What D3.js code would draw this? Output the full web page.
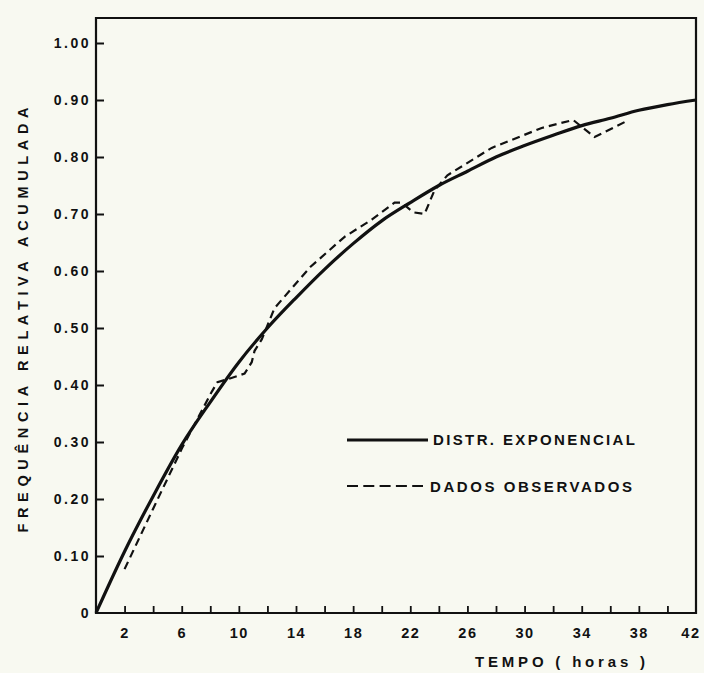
<html>
<head>
<script src="https://d3js.org/d3.v7.min.js"></script>
<style>
  body { margin: 0; background: #f8f9f1; }
  text { font-family: "Liberation Sans", Arial, sans-serif; font-weight: bold; fill: #111; }
</style>
</head>
<body>
<svg id="chart" width="704" height="673"></svg>
<script>
// curva teorica (a cada 2 horas)
const hours = [0, 2, 4, 6, 8, 10, 12, 14, 16, 18, 20, 22, 24, 26, 28, 30, 32, 34, 36, 38, 40, 42];
const expFreq = [0, 0.108, 0.205, 0.295, 0.37, 0.44, 0.50, 0.553, 0.603, 0.648, 0.688, 0.72, 0.75, 0.775, 0.80, 0.82, 0.838, 0.855, 0.868, 0.882, 0.892, 0.90];
// dados observados
const obsHours = [2, 4, 6, 8.1, 8.5, 9.2, 10.4, 10.9, 11.1, 11.6, 12.5, 15, 17.4, 19.3, 20.9, 21.4, 22.2, 23.0, 23.7, 24.6, 27.7, 31.2, 33.4, 34.9, 37.3];
const obsFreq = [0.077, 0.183, 0.288, 0.388, 0.405, 0.41, 0.42, 0.44, 0.46, 0.48, 0.535, 0.607, 0.66, 0.69, 0.72, 0.72, 0.703, 0.70, 0.742, 0.768, 0.816, 0.851, 0.865, 0.835, 0.865];
// eixos
const xTicks = [2, 4, 6, 8, 10, 12, 14, 16, 18, 20, 22, 24, 26, 28, 30, 32, 34, 36, 38, 40, 42];
const xLabels = [2, 6, 10, 14, 18, 22, 26, 30, 34, 38, 42];
const yTicks = [0, 0.1, 0.2, 0.3, 0.4, 0.5, 0.6, 0.7, 0.8, 0.9, 1.0];
const yLabels = ['0', '0.10', '0.20', '0.30', '0.40', '0.50', '0.60', '0.70', '0.80', '0.90', '1.00'];

const svg = d3.select('#chart');
const x = d3.scaleLinear().domain([0, 42]).range([96, 696]);
const y = d3.scaleLinear().domain([0, 1]).range([613, 43]);

// moldura
svg.append('path')
  .attr('d', 'M' + x(0) + ',' + y(0) + 'V18H' + x(42) + 'V' + y(0) + 'Z')
  .attr('fill', 'none').attr('stroke', '#111').attr('stroke-width', 2.2);

// eixo y
const yAxis = svg.append('g')
  .attr('transform', 'translate(' + x(0) + ',0)')
  .call(d3.axisLeft(y).tickValues(yTicks).tickSizeInner(-8).tickSizeOuter(0).tickPadding(5)
    .tickFormat((d, i) => yLabels[i]));
yAxis.select('.domain').remove();
yAxis.selectAll('.tick line').attr('stroke', '#111').attr('stroke-width', 2).filter(d => d === 0).remove();
yAxis.selectAll('.tick text').style('font-size', '14px').style('letter-spacing', '2.5px').attr('fill', '#111');

// eixo x
const xAxis = svg.append('g')
  .attr('transform', 'translate(0,' + y(0) + ')')
  .call(d3.axisBottom(x).tickValues(xTicks).tickSizeInner(-7).tickSizeOuter(0).tickPadding(15)
    .tickFormat(d => xLabels.includes(d) ? d : ''));
xAxis.select('.domain').remove();
xAxis.selectAll('.tick line').attr('stroke', '#111').attr('stroke-width', 1.8).filter(d => d === 42).remove();
xAxis.selectAll('.tick text').style('font-size', '14.5px').style('letter-spacing', '1.5px').attr('fill', '#111');
// o ultimo rotulo fica encostado na borda direita
xAxis.selectAll('.tick text').filter(d => d === 42).attr('text-anchor', 'end').attr('x', 4);

// curva exponencial
svg.append('path')
  .datum(hours.map((h, i) => [h, expFreq[i]]))
  .attr('d', d3.line().x(d => x(d[0])).y(d => y(d[1])).curve(d3.curveMonotoneX))
  .attr('fill', 'none').attr('stroke', '#111').attr('stroke-width', 3.2);

// dados observados
svg.append('path')
  .datum(obsHours.map((h, i) => [h, obsFreq[i]]))
  .attr('d', d3.line().x(d => x(d[0])).y(d => y(d[1])))
  .attr('fill', 'none').attr('stroke', '#111').attr('stroke-width', 2.2)
  .attr('stroke-dasharray', '8,5');

// legenda
svg.append('line').attr('x1', 347).attr('x2', 428).attr('y1', 440).attr('y2', 440)
  .attr('stroke', '#111').attr('stroke-width', 3);
svg.append('text').attr('x', 433).attr('y', 445).attr('font-size', 15)
  .attr('textLength', 202).attr('lengthAdjust', 'spacing').text('DISTR. EXPONENCIAL');
svg.append('line').attr('x1', 347).attr('x2', 423).attr('y1', 486).attr('y2', 486)
  .attr('stroke', '#111').attr('stroke-width', 2.2).attr('stroke-dasharray', '11,5.3');
svg.append('text').attr('x', 430).attr('y', 492).attr('font-size', 15)
  .attr('textLength', 202).attr('lengthAdjust', 'spacing').text('DADOS OBSERVADOS');

// titulos
svg.append('text').attr('x', 475).attr('y', 667).attr('font-size', 15)
  .attr('textLength', 170).attr('lengthAdjust', 'spacing').text('TEMPO ( horas )');
svg.append('text').attr('transform', 'translate(28,320) rotate(-90)')
  .attr('text-anchor', 'middle').attr('font-size', 14.5)
  .attr('textLength', 425).attr('lengthAdjust', 'spacing').text('FREQUÊNCIA RELATIVA ACUMULADA');
</script>
</body>
</html>
